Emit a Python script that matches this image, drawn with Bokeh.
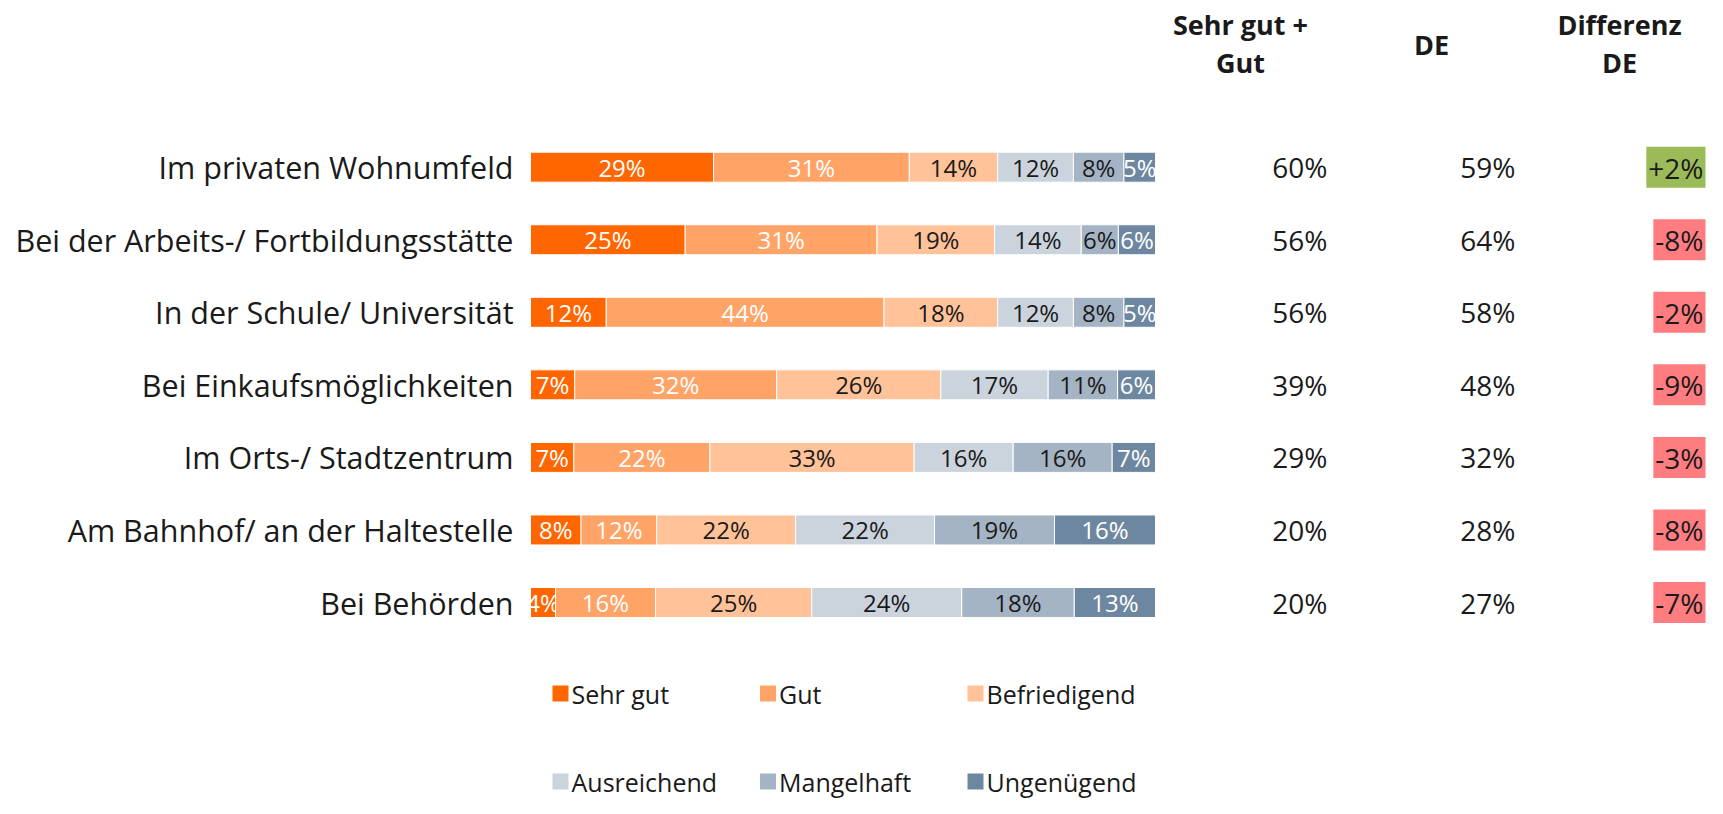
from bokeh.plotting import figure
from bokeh.models import Range1d, ColumnDataSource
from bokeh.core.properties import value
from bokeh.embed import file_html
from bokeh.resources import INLINE

# ---------------- data ----------------
categories = ["Im privaten Wohnumfeld", "Bei der Arbeits-/ Fortbildungsstätte",
              "In der Schule/ Universität", "Bei Einkaufsmöglichkeiten",
              "Im Orts-/ Stadtzentrum", "Am Bahnhof/ an der Haltestelle", "Bei Behörden"]
series = ["Sehr gut", "Gut", "Befriedigend", "Ausreichend", "Mangelhaft", "Ungenügend"]
sehr_gut = [29, 25, 12, 7, 7, 8, 4]
gut = [31, 31, 44, 32, 22, 12, 16]
befriedigend = [14, 19, 18, 26, 33, 22, 25]
ausreichend = [12, 14, 12, 17, 16, 22, 24]
mangelhaft = [8, 6, 8, 11, 16, 19, 18]
ungenuegend = [5, 6, 5, 6, 7, 16, 13]
top2 = [60, 56, 56, 39, 29, 20, 20]
de = [59, 64, 58, 48, 32, 28, 27]
diff = [2, -8, -2, -9, -3, -8, -7]
header_line1 = ["Sehr gut +", "DE", "Differenz"]
header_line2 = ["Gut", "", "DE"]

# ---------------- styles ----------------
colors = ["#FF6600", "#FFA366", "#FFC299", "#CBD3DD", "#A5B4C4", "#6E87A0"]
label_colors = ["white", "white", "#1a1a1a", "#1a1a1a", "#1a1a1a", "white"]
FONT = value("Open Sans")
INK = "#1a1a1a"

W, H = 1707, 798
BAR_X0, BAR_W = 530, 625          # pixel position of the 0..1 bar scale
ROW0, ROW_STEP = 166.7, 72.55      # pixel y of the first row and row spacing


def px_x(px):
    return (px - BAR_X0) / BAR_W


def px_y(py):
    return (py - ROW0) / ROW_STEP


p = figure(width=W, height=H, output_backend="svg", toolbar_location=None,
           x_range=Range1d(px_x(0), px_x(W)), y_range=Range1d(px_y(H), px_y(0)),
           x_axis_location=None, y_axis_location=None, min_border=0)
p.outline_line_color = None
p.grid.visible = False
p.background_fill_color = "white"
p.border_fill_color = "white"

rows = list(range(len(categories)))
values = [sehr_gut, gut, befriedigend, ausreichend, mangelhaft, ungenuegend]
totals = [sum(v[i] for v in values) for i in rows]

cum = [0.0] * len(rows)
for j, vals in enumerate(values):
    left = [cum[i] / totals[i] for i in rows]
    right = [(cum[i] + vals[i]) / totals[i] for i in rows]
    cum = [cum[i] + vals[i] for i in rows]
    src = ColumnDataSource(dict(y=rows, left=left, right=right,
                                mid=[(l + r) / 2 for l, r in zip(left, right)],
                                lab=[f"{v}%" for v in vals]))
    p.hbar(y="y", left="left", right="right", height=0.4135, source=src,
           fill_color=colors[j], line_color="white", line_width=1)
    p.text(x="mid", y="y", text="lab", source=src, text_align="center",
           text_baseline="middle", text_font=FONT, text_font_size="24px",
           text_color=label_colors[j])

# category labels
p.text(x=[0] * len(rows), y=rows, text=categories, x_offset=-17,
       text_align="right", text_baseline="middle", text_font=FONT,
       text_font_size="30.5px", text_color=INK)

# value columns
p.text(x=[px_x(1327)] * len(rows), y=rows, text=[f"{v}%" for v in top2],
       text_align="right", text_baseline="middle", text_font=FONT,
       text_font_size="28px", text_color=INK)
p.text(x=[px_x(1515)] * len(rows), y=rows, text=[f"{v}%" for v in de],
       text_align="right", text_baseline="middle", text_font=FONT,
       text_font_size="28px", text_color=INK)

dsrc = ColumnDataSource(dict(
    x=[px_x(1705)] * len(rows), y=rows,
    t=[f"{v:+d}%" if v > 0 else f"{v}%" for v in diff],
    bg=["#9BBB59" if v > 0 else "#FF7C80" for v in diff]))
p.text(x="x", y="y", text="t", source=dsrc, text_align="right",
       text_baseline="middle", text_font=FONT, text_font_size="28px",
       text_color=INK, background_fill_color="bg", padding=(2, 2, 2, 1))

# headers (two lines each; the single "DE" sits between the lines)
hx = [px_x(1240), px_x(1431), px_x(1619)]
p.text(x=hx, y=[px_y(23.5), px_y(44), px_y(23.5)], text=header_line1,
       text_align="center", text_baseline="middle", text_font=FONT,
       text_font_size="27px", text_font_style="bold", text_color=INK)
p.text(x=[hx[0], hx[2]], y=[px_y(61.5)] * 2,
       text=[header_line2[0], header_line2[2]],
       text_align="center", text_baseline="middle", text_font=FONT,
       text_font_size="27px", text_font_style="bold", text_color=INK)

# legend (manual 3x2 grid)
leg_x = [px_x(560), px_x(767.5), px_x(975)] * 2
leg_y = [px_y(693)] * 3 + [px_y(781)] * 3
p.scatter(x=leg_x, y=leg_y, marker="square", size=16, fill_color=colors,
          line_color=None)
p.text(x=leg_x, y=leg_y, text=series, x_offset=11, text_align="left",
       text_baseline="middle", text_font=FONT, text_font_size="25px",
       text_color=INK)

open("out.html", "w").write(file_html(p, INLINE))
